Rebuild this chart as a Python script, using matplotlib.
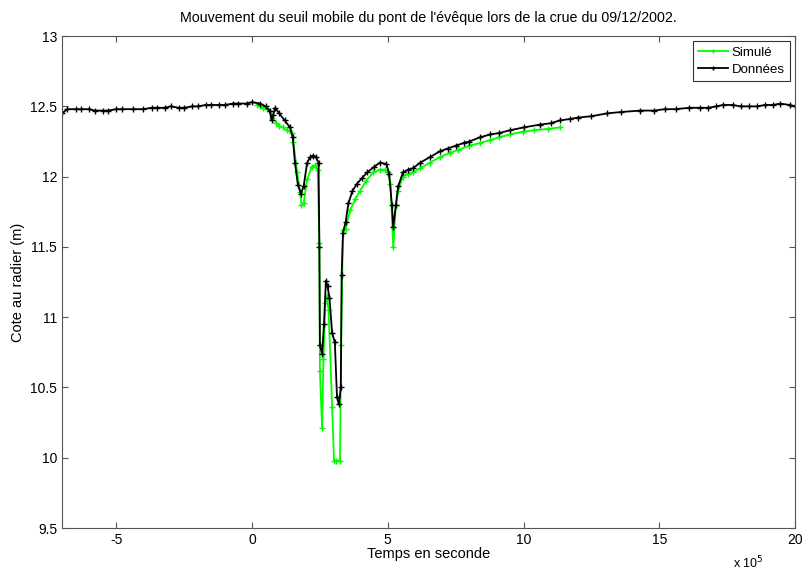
import numpy as np
import matplotlib.pyplot as plt

plt.rcParams['font.family'] = ['Liberation Sans', 'DejaVu Sans']
plt.rcParams['axes.unicode_minus'] = False

# temps en unites de 1e5 s, cote en m
t_donnees = [-7.0, -6.8, -6.5, -6.3, -6.0, -5.8, -5.5, -5.3, -5.0, -4.8, -4.4, -4.0, -3.7, -3.5, -3.2,
             -3.0, -2.7, -2.5, -2.2, -2.0, -1.7, -1.5, -1.2, -1.0, -0.7, -0.5, -0.2,
             0.0, 0.3, 0.5, 0.65, 0.72, 0.78, 0.85, 1.0, 1.2, 1.4, 1.5, 1.58, 1.69, 1.8, 1.9,
             2.03, 2.15, 2.25, 2.35, 2.45, 2.48, 2.5, 2.58, 2.65, 2.72, 2.78, 2.85, 2.95, 3.05,
             3.13, 3.2, 3.27, 3.3, 3.35, 3.45, 3.55, 3.7, 3.87, 4.05, 4.24, 4.5, 4.71, 4.95, 5.05, 5.15,
             5.2, 5.3, 5.38, 5.56, 5.75, 5.93, 6.2, 6.56, 6.92, 7.2, 7.5, 7.8, 8.0, 8.4, 8.77, 9.1, 9.5,
             10.0, 10.6, 11.0, 11.34, 11.7, 12.0, 12.5, 13.08, 13.6, 14.3, 14.8, 15.2, 15.6, 16.1, 16.5,
             16.8, 17.1, 17.35, 17.7, 18.0, 18.3, 18.6, 18.9, 19.2, 19.45, 19.8, 20.0]
z_donnees = [12.45, 12.48, 12.48, 12.48, 12.48, 12.47, 12.47, 12.47, 12.48, 12.48, 12.48, 12.48, 12.49, 12.49, 12.49,
             12.50, 12.49, 12.49, 12.50, 12.50, 12.51, 12.51, 12.51, 12.51, 12.52, 12.52, 12.52,
             12.53, 12.52, 12.50, 12.47, 12.40, 12.44, 12.49, 12.45, 12.40, 12.35, 12.28, 12.10, 11.94, 11.88, 11.93,
             12.10, 12.14, 12.15, 12.14, 12.10, 11.50, 10.80, 10.74, 10.95, 11.26, 11.22, 11.14, 10.89, 10.82,
             10.43, 10.38, 10.50, 11.30, 11.60, 11.68, 11.81, 11.90, 11.95, 11.99, 12.03, 12.07, 12.10, 12.09, 12.02, 11.80,
             11.64, 11.80, 11.93, 12.03, 12.05, 12.06, 12.10, 12.14, 12.18, 12.20, 12.22, 12.24, 12.25, 12.28, 12.30, 12.31, 12.33,
             12.35, 12.37, 12.38, 12.40, 12.41, 12.42, 12.43, 12.45, 12.46, 12.47, 12.47, 12.48, 12.48, 12.49, 12.49,
             12.49, 12.50, 12.51, 12.51, 12.50, 12.50, 12.50, 12.51, 12.51, 12.52, 12.51, 12.50]

t_simule = [0.18, 0.3, 0.4, 0.55, 0.66, 0.75, 0.9, 1.0, 1.14, 1.3, 1.47, 1.52, 1.66, 1.77, 1.82, 1.9, 2.03, 2.2,
            2.32, 2.42, 2.48, 2.5, 2.58, 2.63, 2.7, 2.75, 2.82, 2.95, 3.02, 3.1, 3.24, 3.28, 3.35,
            3.45, 3.61, 3.8, 3.98, 4.2, 4.46, 4.7, 4.9, 5.0, 5.1, 5.2, 5.3, 5.38, 5.56, 5.75, 5.93, 6.2, 6.56,
            6.92, 7.3, 7.6, 8.0, 8.4, 8.77, 9.1, 9.5, 9.98, 10.4, 10.9, 11.34]
z_simule = [12.51, 12.50, 12.49, 12.48, 12.47, 12.42, 12.38, 12.36, 12.35, 12.33, 12.31, 12.25, 12.03, 11.89, 11.80, 11.81, 11.98, 12.07,
            12.08, 12.05, 11.53, 10.62, 10.21, 10.70, 11.10, 11.15, 11.05, 10.36, 9.98, 9.98, 9.98, 10.80, 11.62,
            11.63, 11.76, 11.84, 11.90, 11.97, 12.03, 12.05, 12.05, 12.03, 11.95, 11.50, 11.80, 11.90, 12.00, 12.02, 12.03, 12.06, 12.10,
            12.14, 12.17, 12.19, 12.22, 12.24, 12.26, 12.28, 12.30, 12.32, 12.33, 12.34, 12.35]

fig = plt.figure(figsize=(8.02, 5.72), dpi=100)
ax = fig.add_axes([0.0773, 0.0769, 0.914, 0.860])

ax.plot(t_simule, z_simule, color='#00ff00', marker='+', markersize=5, linewidth=1.3, label='Simulé')
ax.plot(t_donnees, z_donnees, color='black', marker='+', markersize=5, linewidth=1.3, label='Données')

ax.set_xlim(-7, 20)
ax.set_ylim(9.5, 13)
ax.set_xticks([-5, 0, 5, 10, 15, 20])
ax.set_yticks([9.5, 10, 10.5, 11, 11.5, 12, 12.5, 13])
ax.set_yticklabels(['9.5', '10', '10.5', '11', '11.5', '12', '12.5', '13'])
ax.tick_params(direction='in', top=True, right=True, labelsize=10, length=4, color='#555555')
for s in ax.spines.values():
    s.set_color('#555555')

ax.set_title("Mouvement du seuil mobile du pont de l'évêque lors de la crue du 09/12/2002.",
             fontsize=10.3, pad=10)
ax.set_xlabel('Temps en seconde', fontsize=10.5, labelpad=0)
ax.set_ylabel('Cote au radier (m)', fontsize=10.5, labelpad=4)
ax.text(0.915, -0.055, r'x 10$^5$', transform=ax.transAxes, fontsize=9, ha='left', va='top')

leg = ax.legend(loc='upper right', fontsize=9.5, frameon=True, fancybox=False,
                handlelength=2.2, handletextpad=0.3, borderaxespad=0.4, markerscale=0.7,
                labelspacing=0.35)
leg.get_frame().set_edgecolor('black')
leg.get_frame().set_linewidth(0.8)

fig.savefig('out.png', dpi=100)
